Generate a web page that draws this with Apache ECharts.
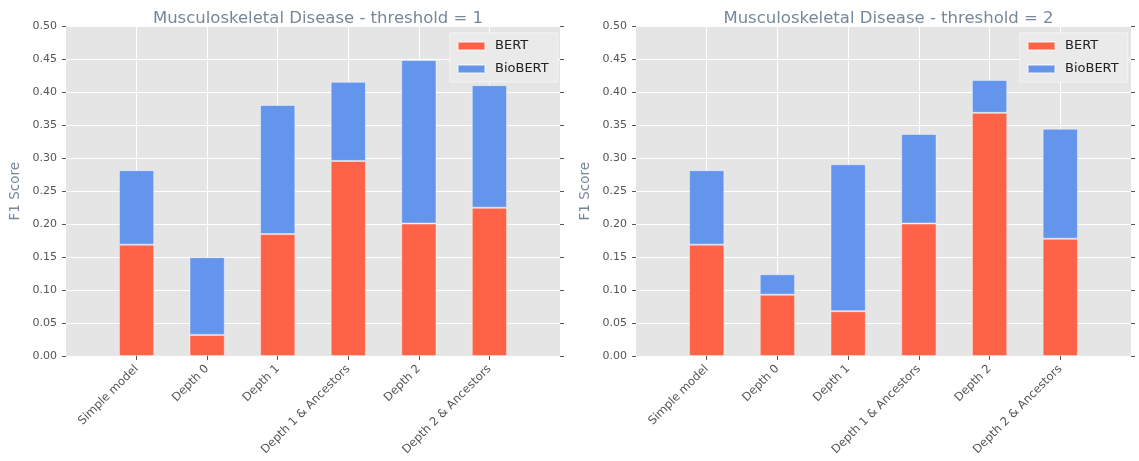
<!DOCTYPE html>
<html>
<head>
<meta charset="utf-8">
<title>Musculoskeletal Disease F1 scores</title>
<script src="https://cdn.jsdelivr.net/npm/echarts@6/dist/echarts.min.js"></script>
<style>
  html, body { margin: 0; padding: 0; background: #ffffff; }
  #chart { width: 1139px; height: 461px; }
</style>
</head>
<body>
<div id="chart"></div>
<script>
// Model variants on the x axis
const categories = ['Simple model', 'Depth 0', 'Depth 1', 'Depth 1 & Ancestors', 'Depth 2', 'Depth 2 & Ancestors'];

// threshold = 1 : BERT segment and the BioBERT segment stacked on top of it
const bertT1    = [0.169, 0.032, 0.185, 0.296, 0.201, 0.225];
const biobertT1 = [0.113, 0.118, 0.196, 0.120, 0.248, 0.186];

// threshold = 2
const bertT2    = [0.169, 0.093, 0.068, 0.201, 0.369, 0.178];
const biobertT2 = [0.113, 0.031, 0.223, 0.136, 0.050, 0.167];

const panelTitles = ['Musculoskeletal Disease - threshold = 1', 'Musculoskeletal Disease - threshold = 2'];
const seriesNames = ['BERT', 'BioBERT'];
const yTicks = { min: 0, max: 0.5, interval: 0.05 };

const FONT = 'DejaVu Sans';
const RED = '#FF6347';
const BLUE = '#6495ED';
const TICK_COLOR = '#555555';
const LABEL_COLOR = '#77879a';

// One empty slot on each side so the bars sit inside an x range of [-1, n]
const paddedCats = [''].concat(categories, ['']);
const inner = (i) => i > 0 && i < paddedCats.length - 1;
const pad = (arr) => ['-'].concat(arr, ['-']);

const grids = [
  { left: 66, width: 494, top: 26.5, bottom: 105 },
  { left: 636, width: 495, top: 26.5, bottom: 105 }
].map(g => Object.assign(g, { show: true, backgroundColor: '#E5E5E5', borderWidth: 0 }));

const xAxes = [];
const yAxes = [];
[0, 1].forEach(gi => {
  // bottom category axis with rotated labels
  xAxes.push({
    type: 'category', gridIndex: gi, position: 'bottom', data: paddedCats, boundaryGap: false,
    axisLine: { show: false },
    axisTick: { show: true, interval: (i) => inner(i), length: 4, lineStyle: { color: TICK_COLOR } },
    axisLabel: { interval: (i) => inner(i), rotate: 45, margin: 11, fontFamily: FONT, fontSize: 11.6, color: TICK_COLOR },
    splitLine: { show: true, interval: (i) => inner(i), lineStyle: { color: '#ffffff', width: 1 } }
  });
  // top axis: tick marks only
  xAxes.push({
    type: 'category', gridIndex: gi, position: 'top', data: paddedCats, boundaryGap: false,
    axisLine: { show: false },
    axisTick: { show: true, interval: (i) => inner(i), length: 4, lineStyle: { color: TICK_COLOR } },
    axisLabel: { show: false },
    splitLine: { show: false }
  });
  // left value axis
  yAxes.push({
    type: 'value', gridIndex: gi, position: 'left', min: yTicks.min, max: yTicks.max, interval: yTicks.interval,
    name: 'F1 Score', nameLocation: 'middle', nameRotate: 90, nameGap: 44,
    nameTextStyle: { fontFamily: FONT, fontSize: 13.5, color: LABEL_COLOR },
    axisLine: { show: false },
    axisTick: { show: true, length: 4, lineStyle: { color: TICK_COLOR } },
    axisLabel: { margin: 9, fontFamily: FONT, fontSize: 11, color: TICK_COLOR, formatter: (v) => v.toFixed(2) },
    splitLine: { show: true, lineStyle: { color: '#ffffff', width: 1 } }
  });
  // right value axis: tick marks only
  yAxes.push({
    type: 'value', gridIndex: gi, position: 'right', min: yTicks.min, max: yTicks.max, interval: yTicks.interval,
    axisLine: { show: false },
    axisTick: { show: true, length: 4, lineStyle: { color: TICK_COLOR } },
    axisLabel: { show: false },
    splitLine: { show: false }
  });
});

const barBorder = { borderColor: 'rgba(255,255,255,0.45)', borderWidth: 1 };
const panels = [[bertT1, biobertT1], [bertT2, biobertT2]];
const series = [];
panels.forEach((pair, gi) => {
  pair.forEach((vals, si) => {
    series.push({
      type: 'bar', name: seriesNames[si], stack: 'panel' + gi,
      xAxisIndex: gi * 2, yAxisIndex: gi * 2,
      barWidth: '50%',
      data: pad(vals),
      itemStyle: Object.assign({ color: si === 0 ? RED : BLUE }, barBorder),
      emphasis: { disabled: true }
    });
  });
});

const titles = panelTitles.map((t, gi) => ({
  text: t,
  left: grids[gi].left + grids[gi].width / 2,
  textAlign: 'center',
  top: 5,
  textStyle: { fontFamily: FONT, fontSize: 16.5, fontWeight: 'normal', color: LABEL_COLOR }
}));

const legends = [450, 1020].map(x => ({
  left: x, top: 33, orient: 'vertical',
  data: seriesNames,
  icon: 'rect', itemWidth: 27, itemHeight: 8, itemGap: 9,
  padding: [6, 9, 6, 7],
  backgroundColor: '#EAEAEA',
  borderColor: '#F4F4F4', borderWidth: 1,
  textStyle: { fontFamily: FONT, fontSize: 13, color: '#222222', padding: [0, 0, 0, 5], lineHeight: 14 }
}));

const chart = echarts.init(document.getElementById('chart'), null, { renderer: 'canvas' });
chart.setOption({
  animation: false,
  backgroundColor: '#ffffff',
  title: titles,
  legend: legends,
  grid: grids,
  xAxis: xAxes,
  yAxis: yAxes,
  series: series
});
</script>
</body>
</html>
